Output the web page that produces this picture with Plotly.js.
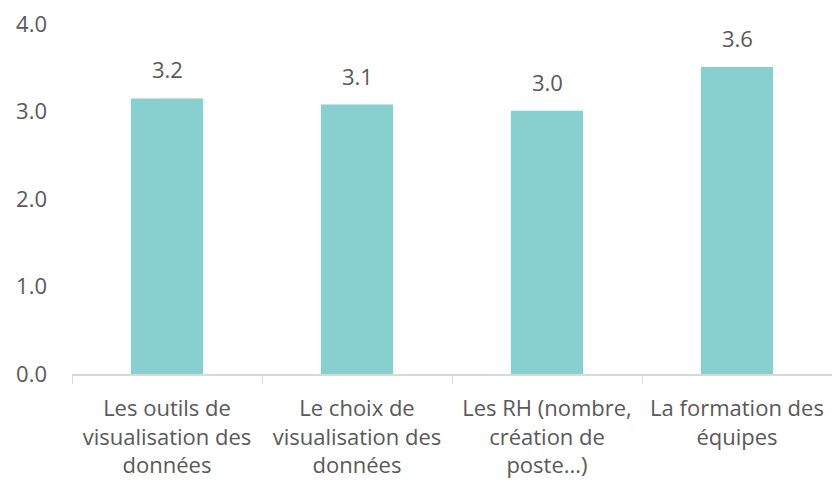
<!DOCTYPE html>
<html><head><meta charset="utf-8">
<script src="https://cdn.plot.ly/plotly-3.0.1.min.js"></script>
<style>html,body{margin:0;padding:0;background:#fff}#c{width:832px;height:484px}</style>
</head><body><div id="c"></div>
<script>
const categories = ["Les outils de<br>visualisation des<br>données", "Le choix de<br>visualisation des<br>données", "Les RH (nombre,<br>création de<br>poste...)", "La formation des<br>équipes"];
const values = [3.15, 3.08, 3.01, 3.51];
const valueLabels = ["3.2", "3.1", "3.0", "3.6"];
const yTicks = [0, 1, 2, 3, 4];
const yTickLabels = ["0.0", "1.0", "2.0", "3.0", "4.0"];

const font = {family: "Open Sans, sans-serif", size: 22, color: "#595959"};
const annotations = categories.map((c, i) => ({
  x: c, y: values[i], xref: "x", yref: "y", text: valueLabels[i],
  showarrow: false, yanchor: "middle", yshift: 29, font: font
}));

Plotly.newPlot("c", [{
  type: "bar", x: categories, y: values,
  marker: {color: "#88D0CF"}, hoverinfo: "none"
}], {
  width: 832, height: 484,
  margin: {l: 72, r: 0, t: 24, b: 110},
  paper_bgcolor: "#fff", plot_bgcolor: "#fff",
  bargap: 0.62, font: font, showlegend: false,
  xaxis: {type: "category", showline: true, linecolor: "#d9d9d9", linewidth: 1.5,
    ticks: "outside", tickson: "boundaries", ticklen: 8, tickcolor: "#d9d9d9",
    tickangle: 0, tickfont: font, showgrid: false, zeroline: false, automargin: false,
    ticklabelstandoff: 14},
  yaxis: {range: [0, 4], tickvals: yTicks, ticktext: yTickLabels, showgrid: false,
    zeroline: false, showline: false, ticks: "", tickfont: font, ticklabelstandoff: 24,
    automargin: false},
  annotations: annotations
}, {staticPlot: true});
</script></body></html>
